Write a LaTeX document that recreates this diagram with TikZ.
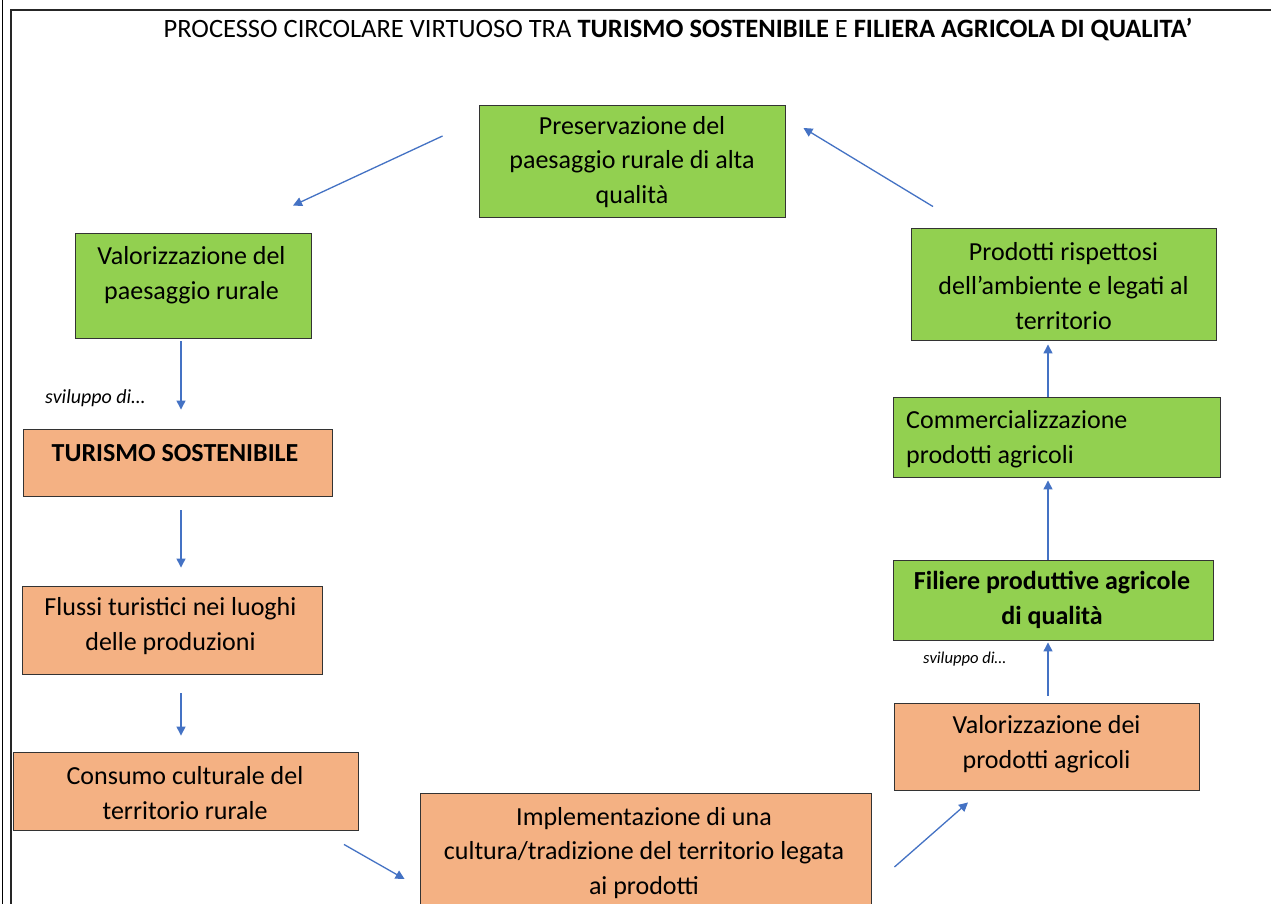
\documentclass[tikz,border=0pt]{standalone}
\usepackage{fontspec}
\setmainfont{Carlito}
\usetikzlibrary{arrows.meta,calc,shadows}
\definecolor{boxgreen}{RGB}{146,208,80}
\definecolor{boxorange}{RGB}{244,177,131}
\definecolor{arrowblue}{RGB}{68,114,196}
\begin{document}
\begin{tikzpicture}[x=1pt,y=-1pt,
  box/.style={draw=black!80, line width=0.9pt, rectangle, inner sep=0pt,
    drop shadow={shadow xshift=0.8pt, shadow yshift=-1pt, opacity=0.45}},
  gbox/.style={box, fill=boxgreen},
  obox/.style={box, fill=boxorange},
  txt/.style={font=\fontsize{26}{34.5}\selectfont, align=center, inner sep=0pt},
  arr/.style={draw=arrowblue, line width=1.3pt, -{Triangle[length=9pt,width=9pt]}},
  note/.style={font=\itshape\fontsize{20}{23}\selectfont, inner sep=0pt, anchor=west}]
\useasboundingbox (0,0) rectangle (1271,904);
\clip (0,0) rectangle (1271,904);
\fill[white] (0,0) rectangle (1271,904);
% frame
\draw[line width=0.8pt, black] (2,0) -- (2,904);
\draw[line width=2pt, black!85] (11,904) -- (11,10) -- (1272,10);
% title
\node[font=\fontsize{26.5}{30}\selectfont, inner sep=0pt] (title) at (678,30)
  {PROCESSO CIRCOLARE VIRTUOSO TRA \textbf{TURISMO SOSTENIBILE} E \textbf{FILIERA AGRICOLA DI QUALITA’}};
% boxes
\node[gbox, minimum width=306pt, minimum height=112pt] (A) at (632,161) {};
\node[gbox, minimum width=305pt, minimum height=112pt] (B) at (1063.5,284) {};
\node[gbox, minimum width=236pt, minimum height=105pt] (C) at (193,285.5) {};
\node[obox, minimum width=309pt, minimum height=67pt] (D) at (177.5,462.5) {};
\node[obox, minimum width=300pt, minimum height=88pt] (E) at (172,630) {};
\node[obox, minimum width=345pt, minimum height=78pt] (F) at (185.5,791) {};
\node[obox, minimum width=451pt, minimum height=127pt] (G) at (645.5,856.5) {};
\node[obox, minimum width=305pt, minimum height=87pt] (H) at (1046.5,746.5) {};
\node[gbox, minimum width=320pt, minimum height=80pt] (I) at (1053,600) {};
\node[gbox, minimum width=327pt, minimum height=80pt] (J) at (1056.5,437) {};
% texts
\node[txt] (tA) at (632,162) {Preservazione del\\paesaggio rurale di alta\\qualità};
\node[txt] (tB) at (1063.5,286) {Prodotti rispettosi\\dell’ambiente e legati al\\territorio};
\node[txt] (tC) at (191.5,275) {Valorizzazione del\\paesaggio rurale};
\node[txt, font=\bfseries\fontsize{26}{34.5}\selectfont] (tD) at (175,453) {TURISMO SOSTENIBILE};
\node[txt] (tE) at (170.5,626) {Flussi turistici nei luoghi\\delle produzioni};
\node[txt] (tF) at (185,793) {Consumo culturale del\\territorio rurale};
\node[txt] (tG) at (644,853) {Implementazione di una\\cultura/tradizione del territorio legata\\ai prodotti};
\node[txt] (tH) at (1046.5,744) {Valorizzazione dei\\prodotti agricoli};
\node[txt, font=\bfseries\fontsize{26}{34.5}\selectfont] (tI) at (1052,600) {Filiere produttive agricole\\di qualità};
\node[txt, align=left, anchor=west] (tJ) at (906,439) {Commercializzazione\\prodotti agricoli};
% notes
\node[note] (n1) at (45,398) {sviluppo di…};
\node[note, font=\itshape\fontsize{16.6}{19}\selectfont] (n2) at (923,659) {sviluppo di…};
% connector end points
\coordinate (a1s) at ([xshift=-36pt,yshift=25pt]A.west);
\coordinate (a1e) at ([xshift=100pt,yshift=27pt]C.north);
\coordinate (a2s) at ([xshift=-130.5pt,yshift=21pt]B.north);
\coordinate (a2e) at ([xshift=18pt,yshift=33pt]A.east);
\coordinate (a6s) at ([xshift=158.5pt,yshift=-14pt]F.south);
\coordinate (a6e) at ([xshift=-15pt,yshift=-22.5pt]G.west);
\coordinate (a7s) at ([xshift=23pt,yshift=-10.5pt]G.east);
\coordinate (a7e) at ([xshift=-78.5pt,yshift=-12pt]H.south);
% connectors
\draw[arr] (a1s) -- (a1e);
\draw[arr] (a2s) -- (a2e);
\draw[arr, shorten <=3pt, shorten >=19pt] ([xshift=-12pt]C.south) -- ([xshift=-12pt]C.south |- D.north);
\draw[arr, shorten <=14pt, shorten >=18pt] ([xshift=3.5pt]D.south) -- ([xshift=3.5pt]D.south |- E.north);
\draw[arr, shorten <=19pt, shorten >=16pt] ([xshift=9pt]E.south) -- ([xshift=9pt]E.south |- F.north);
\draw[arr] (a6s) -- (a6e);
\draw[arr] (a7s) -- (a7e);
\draw[arr, shorten <=7pt, shorten >=2pt] ([xshift=1.5pt]H.north) -- ([xshift=1.5pt]H.north |- I.south);
\draw[arr, shorten >=3pt] ([xshift=-5pt]I.north) -- ([xshift=-5pt]I.north |- J.south);
\draw[arr, shorten >=4pt] ([xshift=-8.5pt]J.north) -- ([xshift=-8.5pt]J.north |- B.south);
\end{tikzpicture}
\end{document}
